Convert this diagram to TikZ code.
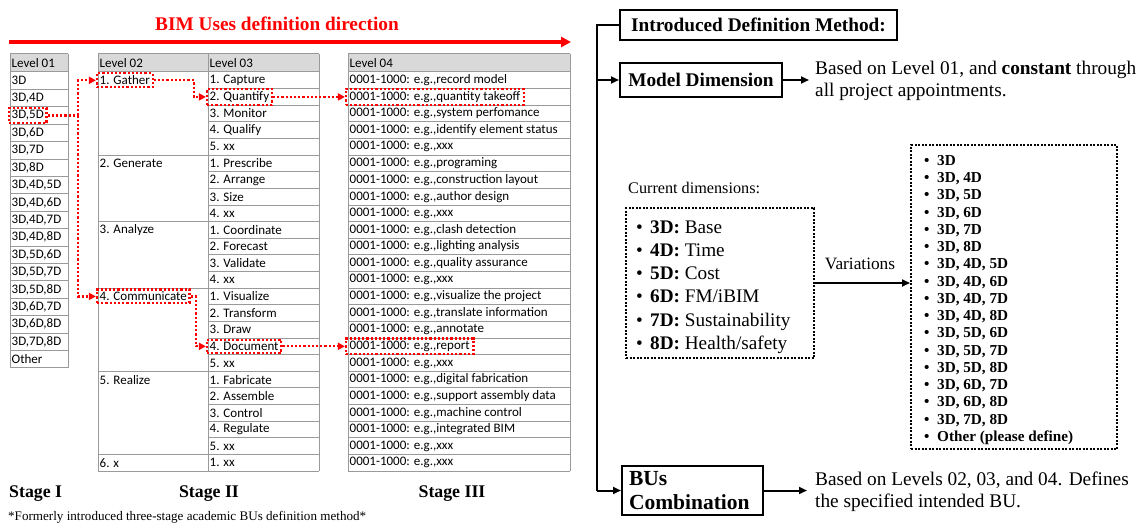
\documentclass[tikz,border=0pt]{standalone}
\usepackage{fontspec}
\setmainfont{Liberation Serif}
\newfontfamily\tabfont{Carlito}
\usetikzlibrary{arrows.meta,fit,calc}

\definecolor{tabline}{HTML}{9A9A9A}
\definecolor{hdrfill}{HTML}{D9D9D9}
\newcommand\tabsz{\tabfont\fontsize{13}{15}\selectfont}
\newcommand\bigsz{\rmfamily\fontsize{19.3}{22.5}\selectfont}

\begin{document}
\begin{tikzpicture}[x=1pt,y=-1pt,
  cell/.style={anchor=west, inner sep=0pt, font=\tabsz},
  grid/.style={draw=tabline, line width=1pt},
  redbox/.style={draw=red, line width=2.2pt, dash pattern=on 2.2pt off 2pt, inner xsep=2.5pt, inner ysep=2.2pt},
  reddot/.style={red, line width=2.2pt, dash pattern=on 2.2pt off 2pt, -{Triangle[length=7pt,width=7pt]}},
  box/.style={draw, line width=2pt, inner sep=0pt, font=\bigsz\bfseries},
  conn/.style={line width=2pt, -{Triangle[length=8pt,width=7pt]}},
  dotbox/.style={draw, line width=2pt, dash pattern=on 2pt off 1.5pt, inner sep=0pt},
  txt/.style={inner sep=0pt, align=left, font=\bigsz},
  stage/.style={inner sep=0pt, font=\rmfamily\fontsize{17.8}{20}\selectfont\bfseries}]
\useasboundingbox (0,0) rectangle (1141,527);

% ---- direction title and arrow ----
\node[font=\bigsz\bfseries, text=red] (ttl) at (277,24) {BIM Uses definition direction};
\coordinate (ra) at (9,42);
\coordinate (rb) at (571,42);
\draw[red, line width=3.5pt, -{Triangle[length=10pt,width=10pt]}] (ra) -- (rb);

% ---- Level 01 table ----
\fill[hdrfill] (10,54) rectangle (68,72);
\draw[grid] (10,54) -- (68,54);
\foreach \i in {0,...,17} \draw[grid] (10,{72+\i*17.4}) -- (68,{72+\i*17.4});
\draw[grid] (10,54) -- (10,368) (68,54) -- (68,368);
\node[cell] (l1h) at (11.5,63) {Level 01};
\foreach \t [count=\i] in {3D,{3D,4D},{3D,5D},{3D,6D},{3D,7D},{3D,8D},{3D,4D,5D},{3D,4D,6D},{3D,4D,7D},{3D,4D,8D},{3D,5D,6D},{3D,5D,7D},{3D,5D,8D},{3D,6D,7D},{3D,6D,8D},{3D,7D,8D},Other}
  \node[cell] (l1-\i) at (11.5,{72+(\i-0.5)*17.4}) {\t};

% ---- Level 02 / 03 table ----
\fill[hdrfill] (98,54) rectangle (319,72);
\draw[grid] (98,54) -- (319,54);
\foreach \i in {0,...,24} \draw[grid] (208,{72+\i*16.625}) -- (319,{72+\i*16.625});
\foreach \i in {0,5,9,13,18,23,24} \draw[grid] (98,{72+\i*16.625}) -- (208,{72+\i*16.625});
\draw[grid] (98,54) -- (98,471) (208,54) -- (208,471) (319,54) -- (319,471);
\node[cell] (l2h) at (99.5,63) {Level 02};
\node[cell] (l3h) at (209.5,63) {Level 03};
\foreach \t/\r in {1. Gather/1,2. Generate/6,3. Analyze/10,4. Communicate/14,5. Realize/19,6. x/24}
  \node[cell] (l2-\r) at (99.5,{72+(\r-0.5)*16.625}) {\t};
\foreach \t [count=\i] in {1. Capture,2. Quantify,3. Monitor,4. Qualify,5. xx,
    1. Prescribe,2. Arrange,3. Size,4. xx,
    1. Coordinate,2. Forecast,3. Validate,4. xx,
    1. Visualize,2. Transform,3. Draw,4. Document,5. xx,
    1. Fabricate,2. Assemble,3. Control,4. Regulate,5. xx,1. xx}
  \node[cell] (l3-\i) at (209.5,{72+(\i-0.5)*16.625}) {\t};

% ---- Level 04 table ----
\fill[hdrfill] (348,54) rectangle (570,72);
\draw[grid] (348,54) -- (570,54);
\foreach \i in {0,...,24} \draw[grid] (348,{72+\i*16.625}) -- (570,{72+\i*16.625});
\draw[grid] (348,54) -- (348,471) (570,54) -- (570,471);
\node[cell] (l4h) at (349.5,63) {Level 04};
\foreach \t [count=\i] in {record model,quantity takeoff,system perfomance,identify element status,xxx,
    programing,construction layout,author design,xxx,
    clash detection,lighting analysis,quality assurance,xxx,
    visualize the project,translate information,annotate,report,xxx,
    digital fabrication,support assembly data,machine control,integrated BIM,xxx,xxx}
  \node[cell] (l4-\i) at (349.5,{72+(\i-0.5)*16.625}) {0001-1000: e.g.,\t};

% ---- highlighted path through the levels ----
\node[redbox, fit=(l1-3)] (h1) {};
\node[redbox, fit=(l2-1)] (hg) {};
\node[redbox, fit=(l3-2)] (hq) {};
\node[redbox, fit=(l4-2), inner xsep=3.5pt] (hqt) {};
\node[redbox, fit=(l2-14)] (hc) {};
\node[redbox, fit=(l3-17)] (hd) {};
\node[redbox, fit=(l4-17), inner xsep=3.5pt] (hr) {};
\coordinate (j1) at (78,0);
\draw[red, line width=2.2pt, dash pattern=on 2.2pt off 2pt] (h1.east) -- (j1 |- h1.east);
\draw[reddot] (j1 |- h1.east) |- (hg.west);
\draw[reddot] (j1 |- h1.east) |- (hc.west);
\draw[reddot] (hg.east) -- ++(40,0) |- (hq.west);
\draw[reddot] (hq.east) -- (hqt.west);
\draw[reddot] (hc.east) -- ++(5,0) |- (hd.west);
\draw[reddot] (hd.east) -- (hd.east -| hr.west);

% ---- stage labels and note ----
\node[stage, anchor=west] (s1) at (9,494) {Stage I};
\node[stage] (s2) at (209,494) {Stage II};
\node[stage] (s3) at (452,494) {Stage III};
\node[font=\rmfamily\fontsize{13.1}{16}\selectfont, anchor=west, inner sep=0pt] (fn) at (8,517)
  {*Formerly introduced three-stage academic BUs definition method*};

% ---- introduced definition method ----
\node[box, minimum width=277, minimum height=30] (intro) at (758.5,25) {Introduced Definition Method:};
\node[box, minimum width=162, minimum height=34] (md) at (701,80) {Model Dimension};
\node[box, minimum width=141, minimum height=49, text width=127, align=left, font=\rmfamily\fontsize{21.5}{24}\selectfont\bfseries] (buc) at (692.5,490.5) {BUs\\Combination};
\coordinate (vx) at (597,0);
\draw[line width=2.5pt] (intro.west) -| (vx |- buc.west);
\draw[conn] (vx |- buc.west) -- (buc.west);
\draw[conn] (vx |- md.west) -- (md.west);

\node[txt, anchor=west] (mdtxt) at (815,81) {Based on Level 01, and \textbf{constant} through\\all project appointments.};
\draw[conn] (md.east) -- ([xshift=-6pt]md.east -| mdtxt.west);
\node[txt, anchor=west] (buctxt) at (815,492) {Based on Levels 02, 03, and 04. Defines\\the specified intended BU.};
\draw[conn] (buc.east) -- ([xshift=-8pt]buc.east -| buctxt.west);

% ---- current dimensions and variations ----
\node[anchor=west, inner sep=0pt, font=\rmfamily\fontsize{16.2}{18}\selectfont] (curlbl) at (628,188) {Current dimensions:};
\node[dotbox, minimum width=188, minimum height=150] (cur) at (720,283) {};
\node[anchor=west, inner sep=0pt, align=left, font=\rmfamily\fontsize{19.2}{23.2}\selectfont] (curlist) at (636,287)
  {\makebox[14pt][l]{\textbullet}\textbf{3D:} Base\\
   \makebox[14pt][l]{\textbullet}\textbf{4D:} Time\\
   \makebox[14pt][l]{\textbullet}\textbf{5D:} Cost\\
   \makebox[14pt][l]{\textbullet}\textbf{6D:} FM/iBIM\\
   \makebox[14pt][l]{\textbullet}\textbf{7D:} Sustainability\\
   \makebox[14pt][l]{\textbullet}\textbf{8D:} Health/safety};
\node[dotbox, minimum width=206, minimum height=304] (var) at (1014,297) {};
\node[anchor=west, inner sep=0pt, align=left, font=\rmfamily\fontsize{15.2}{17.25}\selectfont\bfseries] (varlist) at (924,300)
  {\makebox[13pt][l]{\textbullet}3D\\
   \makebox[13pt][l]{\textbullet}3D, 4D\\
   \makebox[13pt][l]{\textbullet}3D, 5D\\
   \makebox[13pt][l]{\textbullet}3D, 6D\\
   \makebox[13pt][l]{\textbullet}3D, 7D\\
   \makebox[13pt][l]{\textbullet}3D, 8D\\
   \makebox[13pt][l]{\textbullet}3D, 4D, 5D\\
   \makebox[13pt][l]{\textbullet}3D, 4D, 6D\\
   \makebox[13pt][l]{\textbullet}3D, 4D, 7D\\
   \makebox[13pt][l]{\textbullet}3D, 4D, 8D\\
   \makebox[13pt][l]{\textbullet}3D, 5D, 6D\\
   \makebox[13pt][l]{\textbullet}3D, 5D, 7D\\
   \makebox[13pt][l]{\textbullet}3D, 5D, 8D\\
   \makebox[13pt][l]{\textbullet}3D, 6D, 7D\\
   \makebox[13pt][l]{\textbullet}3D, 6D, 8D\\
   \makebox[13pt][l]{\textbullet}3D, 7D, 8D\\
   \makebox[13pt][l]{\textbullet}Other (please define)};
\node[font=\rmfamily\fontsize{17.3}{20}\selectfont] (varlbl) at (860,264) {Variations};
\draw[conn] (cur.east) -- (cur.east -| var.west);
\end{tikzpicture}
\end{document}
